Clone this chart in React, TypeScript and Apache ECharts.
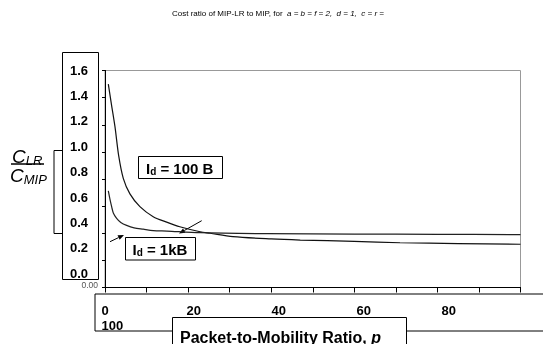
import React, { useEffect, useRef } from "react";
import * as echarts from "echarts";

const titleMain = "Cost ratio of MIP-LR to MIP, for  ";
const titleParams = "a = b = f = 2,  d = 1,  c = r =";

const pValues100 = [0.8, 1.5, 2.4, 3.3, 4.4, 6, 8.4, 11.6, 15, 18, 22.9, 25.3, 30.8, 40, 47, 60, 71, 85, 100];
const ratio100 = [1.5, 1.36, 1.186, 0.97, 0.805, 0.69, 0.596, 0.522, 0.48, 0.448, 0.411, 0.4, 0.375, 0.358, 0.35, 0.34, 0.33, 0.324, 0.319];

const pValues1k = [0.8, 1.2, 1.6, 2, 2.8, 3.8, 5.2, 7, 9.2, 11.6, 14.9, 22.9, 39, 60, 80, 100];
const ratio1k = [0.712, 0.65, 0.596, 0.55, 0.51, 0.48, 0.458, 0.44, 0.43, 0.42, 0.416, 0.404, 0.397, 0.394, 0.392, 0.39];

const yTickLabels = ["1.6", "1.4", "1.2", "1.0", "0.8", "0.6", "0.4", "0.2", "0.0"];
const xTickLabelsRow1 = ["0", "20", "40", "60", "80"];
const xTickLabelsRow2 = ["100"];
const cornerLabel = "0.00";

const FONT = "'Liberation Sans', Arial, sans-serif";

function arrow(x1: number, y1: number, x2: number, y2: number) {
  const dx = x2 - x1;
  const dy = y2 - y1;
  const len = Math.sqrt(dx * dx + dy * dy);
  const ux = dx / len;
  const uy = dy / len;
  const bx = x2 - 6 * ux;
  const by = y2 - 6 * uy;
  const nx = -uy;
  const ny = ux;
  return [
    { type: "line", shape: { x1, y1, x2: bx, y2: by }, style: { stroke: "#000", lineWidth: 1 } },
    {
      type: "polygon",
      shape: { points: [[x2, y2], [bx + 2.5 * nx, by + 2.5 * ny], [bx - 2.5 * nx, by - 2.5 * ny]] },
      style: { fill: "#000" },
    },
  ];
}

export default function App() {
  const ref = useRef<HTMLDivElement>(null);
  useEffect(() => {
    if (!ref.current) return;
    const chart = echarts.init(ref.current, null, { renderer: "svg" });
    const graphic: any[] = [];
    graphic.push({
      type: "text",
      x: 172,
      y: 13,
      style: {
        text: "{n|" + titleMain + "}{i|" + titleParams + "}",
        verticalAlign: "middle",
        rich: {
          n: { font: `8px ${FONT}`, fill: "#000" },
          i: { font: `italic 8px ${FONT}`, fill: "#000" },
        },
      },
    });
    graphic.push({ type: "rect", shape: { x: 62.5, y: 52.5, width: 36, height: 227 }, style: { fill: "none", stroke: "#000", lineWidth: 1 } });
    yTickLabels.forEach((t, i) => {
      graphic.push({
        type: "text",
        x: 70,
        y: 70 + i * 25.4,
        style: { text: t, font: `bold 13px ${FONT}`, fill: "#000", verticalAlign: "middle" },
      });
    });
    graphic.push({
      type: "text",
      x: 98,
      y: 285,
      style: { text: cornerLabel, font: `8.5px ${FONT}`, fill: "#555", align: "right", verticalAlign: "middle" },
    });
    graphic.push({
      type: "text",
      x: 12,
      y: 156,
      style: {
        text: "{c|C}{s|LR}",
        verticalAlign: "middle",
        rich: {
          c: { font: `italic 19px ${FONT}`, fill: "#000" },
          s: { font: `italic 13px ${FONT}`, fill: "#000", padding: [8, 0, 0, 0] },
        },
      },
    });
    graphic.push({ type: "line", shape: { x1: 11, y1: 164, x2: 44, y2: 164 }, style: { stroke: "#000", lineWidth: 1.3 } });
    graphic.push({
      type: "text",
      x: 10,
      y: 175,
      style: {
        text: "{c|C}{s|MIP}",
        verticalAlign: "middle",
        rich: {
          c: { font: `italic 19px ${FONT}`, fill: "#000" },
          s: { font: `italic 13px ${FONT}`, fill: "#000", padding: [8, 0, 0, 0] },
        },
      },
    });
    graphic.push({
      type: "polyline",
      shape: { points: [[62, 150.5], [54, 150.5], [54, 233.5], [62, 233.5]] },
      style: { stroke: "#000", lineWidth: 1, fill: "none" },
    });
    graphic.push({
      type: "polyline",
      shape: { points: [[543, 294], [95, 294], [95, 331], [173, 331]] },
      style: { stroke: "#000", lineWidth: 1, fill: "none" },
    });
    graphic.push({ type: "line", shape: { x1: 406.5, y1: 331, x2: 543, y2: 331 }, style: { stroke: "#000", lineWidth: 1 } });
    xTickLabelsRow1.forEach((t, i) => {
      graphic.push({
        type: "text",
        x: 101.5 + i * 85,
        y: 310,
        style: { text: t, font: `bold 13px ${FONT}`, fill: "#000", verticalAlign: "middle" },
      });
    });
    xTickLabelsRow2.forEach((t) => {
      graphic.push({
        type: "text",
        x: 101.5,
        y: 325,
        style: { text: t, font: `bold 13px ${FONT}`, fill: "#000", verticalAlign: "middle" },
      });
    });
    graphic.push({ type: "rect", shape: { x: 172.5, y: 317.5, width: 234, height: 40 }, style: { fill: "#fff", stroke: "#000", lineWidth: 1 } });
    graphic.push({
      type: "text",
      x: 180,
      y: 337,
      style: {
        text: "{b|Packet-to-Mobility Ratio, }{i|p}",
        verticalAlign: "middle",
        rich: {
          b: { font: `bold 16px ${FONT}`, fill: "#000" },
          i: { font: `italic bold 16px ${FONT}`, fill: "#000" },
        },
      },
    });
    graphic.push({ type: "rect", shape: { x: 138.5, y: 156.5, width: 84, height: 22 }, style: { fill: "#fff", stroke: "#000", lineWidth: 1 } });
    graphic.push({
      type: "text",
      x: 146,
      y: 168,
      style: {
        text: "{b|I}{s|d}{b| = 100 B}",
        verticalAlign: "middle",
        rich: {
          b: { font: `bold 15px ${FONT}`, fill: "#000" },
          s: { font: `bold 10px ${FONT}`, fill: "#000", padding: [6, 0, 0, 0] },
        },
      },
    });
    graphic.push({ type: "rect", shape: { x: 125.5, y: 237.5, width: 70, height: 22.5 }, style: { fill: "#fff", stroke: "#000", lineWidth: 1 } });
    graphic.push({
      type: "text",
      x: 132.5,
      y: 249,
      style: {
        text: "{b|I}{s|d}{b| = 1kB}",
        verticalAlign: "middle",
        rich: {
          b: { font: `bold 15px ${FONT}`, fill: "#000" },
          s: { font: `bold 10px ${FONT}`, fill: "#000", padding: [6, 0, 0, 0] },
        },
      },
    });
    graphic.push(...arrow(110, 241.7, 124, 235));
    graphic.push(...arrow(201.7, 220.7, 179, 233.5));

    const tickAxisCommon = {
      type: "value",
      axisLabel: { show: false },
      splitLine: { show: false },
      axisLine: { show: true, lineStyle: { color: "#000", width: 1 } },
    };

    chart.setOption({
      animation: false,
      grid: {
        left: 105,
        top: 70.5,
        right: 22.5,
        bottom: 56.5,
        show: true,
        borderColor: "#999",
        borderWidth: 1,
      },
      xAxis: [
        { ...tickAxisCommon, min: 0, max: 100, interval: 10, axisTick: { show: true, length: 5, lineStyle: { color: "#000" } } },
        { ...tickAxisCommon, min: 0, max: 100, interval: 10, axisTick: { show: true, inside: true, length: 4, lineStyle: { color: "#000" } } },
      ],
      yAxis: [
        { ...tickAxisCommon, min: 0, max: 1.6, interval: 0.2, axisTick: { show: true, length: 3, lineStyle: { color: "#000" } } },
        { ...tickAxisCommon, min: 0, max: 1.6, interval: 0.2, axisTick: { show: true, inside: true, length: 3, lineStyle: { color: "#000" } } },
      ],
      series: [
        {
          type: "line",
          name: "Id = 100 B",
          data: pValues100.map((p, i) => [p, ratio100[i]]),
          smooth: 0.3,
          showSymbol: false,
          lineStyle: { color: "#111", width: 1.2 },
          z: 3,
        },
        {
          type: "line",
          name: "Id = 1kB",
          data: pValues1k.map((p, i) => [p, ratio1k[i]]),
          smooth: 0.3,
          showSymbol: false,
          lineStyle: { color: "#222", width: 1.2 },
          z: 3,
        },
      ],
      graphic,
    });
    return () => chart.dispose();
  }, []);
  return <div ref={ref} style={{ position: "fixed", left: 0, top: 0, width: 543, height: 344 }} />;
}
